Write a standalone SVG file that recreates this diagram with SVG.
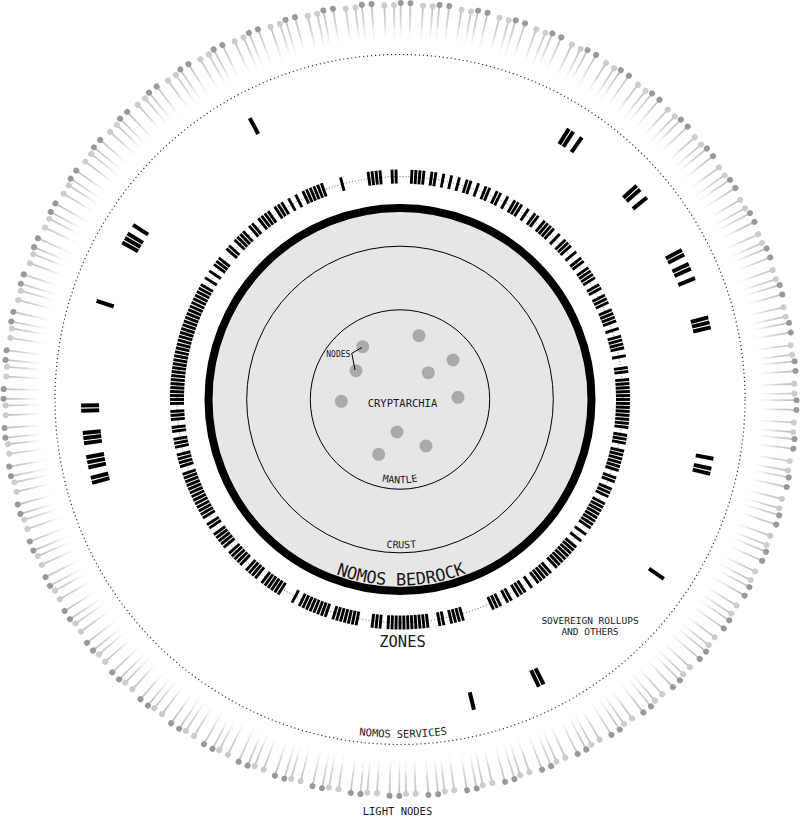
<svg xmlns="http://www.w3.org/2000/svg" width="800" height="817" viewBox="0 0 800 817">
<style>
.t{font-family:"DejaVu Sans Mono","Liberation Mono",monospace;fill:#1a1a1a}
.ring{fill:none;stroke:#000;stroke-width:1}
.node{fill:#aaa}
.dot1{fill:none;stroke:#333;stroke-width:0.8;stroke-dasharray:1 2}
.dot2{fill:none;stroke:#333;stroke-width:1.2;stroke-dasharray:1.2 2.8}
</style>
<defs>
<linearGradient id="fade" x1="0" y1="0" x2="1" y2="0">
<stop offset="0" stop-color="#fff" stop-opacity="0"/>
<stop offset="0.55" stop-color="#d6d6d6"/>
<stop offset="1" stop-color="#bdbdbd"/>
</linearGradient>
<g id="lL"><rect x="354" y="-0.85" width="40.5" height="1.7" fill="url(#fade)"/><circle cx="394.5" cy="0" r="3" fill="#ccc"/></g>
<g id="lD"><rect x="354" y="-0.85" width="42.5" height="1.7" fill="url(#fade)"/><circle cx="396.5" cy="0" r="3" fill="#999"/></g>
<g id="P"><use href="#lL"/><use href="#lL" transform="rotate(1.41)"/><use href="#lD" transform="rotate(2.38)"/><use href="#lD" transform="rotate(3.79)"/></g>
<g id="P8"><use href="#P"/><use href="#P" transform="rotate(5.625)"/><use href="#P" transform="rotate(11.25)"/><use href="#P" transform="rotate(16.875)"/><use href="#P" transform="rotate(22.5)"/><use href="#P" transform="rotate(28.125)"/><use href="#P" transform="rotate(33.75)"/><use href="#P" transform="rotate(39.375)"/></g>
<rect id="z" x="216" y="-1.45" width="14" height="2.9"/>
<g id="z2"><use href="#z"/><use href="#z" transform="rotate(1)"/></g>
<g id="z3"><use href="#z2"/><use href="#z" transform="rotate(2)"/></g>
<g id="z4"><use href="#z2"/><use href="#z2" transform="rotate(2)"/></g>
<g id="z5"><use href="#z4"/><use href="#z" transform="rotate(4)"/></g>
<g id="z6"><use href="#z4"/><use href="#z2" transform="rotate(4)"/></g>
<g id="z8"><use href="#z4"/><use href="#z4" transform="rotate(4)"/></g>
<rect id="s" x="301" y="-2" width="18" height="4"/>
<path id="pMantle" d="M316.2 399.5 A83.8 83.8 0 0 0 483.8 399.5"/>
<path id="pCrust" d="M251.2 399.5 A148.8 148.8 0 0 0 548.8 399.5"/>
<path id="pBed" d="M214 399.5 A186 186 0 0 0 586 399.5"/>
<path id="pServ" d="M61.8 399.5 A338.2 338.2 0 0 0 738.2 399.5"/>
</defs>
<rect width="800" height="817" fill="#fff"/>

<g id="light-nodes" transform="translate(400 399.5) rotate(3.345)">
<use href="#P8"/><use href="#P8" transform="rotate(45)"/><use href="#P8" transform="rotate(90)"/><use href="#P8" transform="rotate(135)"/><use href="#P8" transform="rotate(180)"/><use href="#P8" transform="rotate(225)"/><use href="#P8" transform="rotate(270)"/><use href="#P8" transform="rotate(315)"/>
</g>

<g id="nomos-services">
<circle class="dot2" cx="400" cy="399.5" r="345"/>
<text class="t" font-size="10.5"><textPath href="#pServ" startOffset="50.3%" text-anchor="middle">NOMOS SERVICES</textPath></text>
</g>

<g id="sovereign-rollups" transform="translate(400 399.5)">
<use href="#s" transform="rotate(241.9)"/>
<use href="#s" transform="rotate(301.95)"/><use href="#s" transform="rotate(302.88)"/><use href="#s" transform="rotate(304.74)"/>
<use href="#s" transform="rotate(317.9)"/><use href="#s" transform="rotate(318.83)"/><use href="#s" transform="rotate(320.7)"/>
<use href="#s" transform="rotate(332.05)"/><use href="#s" transform="rotate(332.98)"/><use href="#s" transform="rotate(334.84)"/><use href="#s" transform="rotate(335.77)"/><use href="#s" transform="rotate(337.63)"/>
<use href="#s" transform="rotate(345.07)"/><use href="#s" transform="rotate(346)"/><use href="#s" transform="rotate(346.93)"/>
<use href="#s" transform="rotate(10.7)"/><use href="#s" transform="rotate(12.55)"/><use href="#s" transform="rotate(13.48)"/>
<use href="#s" transform="rotate(34.2)"/>
<use href="#s" transform="rotate(63.25)"/><use href="#s" transform="rotate(64.18)"/>
<use href="#s" transform="rotate(76.6)"/>
<use href="#s" transform="rotate(198)"/>
<use href="#s" transform="rotate(209.5)"/><use href="#s" transform="rotate(210.43)"/><use href="#s" transform="rotate(211.36)"/><use href="#s" transform="rotate(213.2)"/>
<use href="#s" transform="rotate(177.97)"/><use href="#s" transform="rotate(178.9)"/>
<use href="#s" transform="rotate(172.1)"/><use href="#s" transform="rotate(173.03)"/><use href="#s" transform="rotate(173.96)"/>
<use href="#s" transform="rotate(167.7)"/><use href="#s" transform="rotate(168.63)"/><use href="#s" transform="rotate(169.56)"/>
<use href="#s" transform="rotate(164.85)"/><use href="#s" transform="rotate(165.78)"/>
</g>
<text class="t" font-size="9.5" x="590" y="623.5" text-anchor="middle">SOVEREIGN ROLLUPS</text>
<text class="t" font-size="9.5" x="590" y="635" text-anchor="middle">AND OTHERS</text>

<g id="zones">
<g transform="translate(400 399.5)">
<circle class="dot1" r="223"/>
<use href="#z8" transform="rotate(355)"/><use href="#z5" transform="rotate(3)"/>
<use href="#z3" transform="rotate(9)"/><use href="#z6" transform="rotate(13)"/>
<use href="#z2" transform="rotate(20)"/><use href="#z3" transform="rotate(23)"/>
<use href="#z8" transform="rotate(27)"/><use href="#z" transform="rotate(36)"/>
<use href="#z" transform="rotate(38)"/><use href="#z8" transform="rotate(40)"/>
<use href="#z5" transform="rotate(49)"/><use href="#z" transform="rotate(55)"/>
<use href="#z3" transform="rotate(57)"/><use href="#z2" transform="rotate(61)"/>
<use href="#z3" transform="rotate(64)"/><use href="#z4" transform="rotate(74)"/>
<use href="#z2" transform="rotate(79)"/><use href="#z8" transform="rotate(83)"/>
<use href="#z3" transform="rotate(91)"/><use href="#z3" transform="rotate(95)"/>
<use href="#z4" transform="rotate(101)"/><use href="#z3" transform="rotate(105)"/>
<use href="#z8" transform="rotate(109)"/><use href="#z" transform="rotate(118)"/>
<use href="#z6" transform="rotate(122)"/><use href="#z4" transform="rotate(129)"/>
<use href="#z5" transform="rotate(134)"/><use href="#z5" transform="rotate(140)"/>
<use href="#z2" transform="rotate(146)"/><use href="#z8" transform="rotate(149)"/>
<use href="#z5" transform="rotate(157)"/><use href="#z4" transform="rotate(163)"/>
<use href="#z3" transform="rotate(168)"/><use href="#z2" transform="rotate(172)"/>
<use href="#z3" transform="rotate(175)"/><use href="#z8" transform="rotate(179)"/>
<use href="#z8" transform="rotate(187)"/><use href="#z8" transform="rotate(195)"/>
<use href="#z8" transform="rotate(203)"/><use href="#z" transform="rotate(212)"/>
<use href="#z" transform="rotate(214)"/><use href="#z3" transform="rotate(216)"/>
<use href="#z2" transform="rotate(221)"/><use href="#z4" transform="rotate(224)"/>
<use href="#z2" transform="rotate(229)"/><use href="#z4" transform="rotate(232)"/>
<use href="#z3" transform="rotate(237)"/><use href="#z" transform="rotate(241)"/>
<use href="#z" transform="rotate(243)"/><use href="#z6" transform="rotate(245)"/>
<use href="#z" transform="rotate(255)"/><use href="#z4" transform="rotate(262)"/>
<use href="#z2" transform="rotate(268)"/><use href="#z4" transform="rotate(273)"/>
<use href="#z2" transform="rotate(278)"/><use href="#z" transform="rotate(281)"/>
<use href="#z" transform="rotate(283)"/><use href="#z" transform="rotate(285)"/>
<use href="#z2" transform="rotate(287)"/><use href="#z" transform="rotate(290)"/>
<use href="#z2" transform="rotate(292)"/><use href="#z2" transform="rotate(295)"/>
<use href="#z" transform="rotate(298)"/><use href="#z3" transform="rotate(300)"/>
<use href="#z" transform="rotate(304)"/><use href="#z2" transform="rotate(306)"/>
<use href="#z4" transform="rotate(309)"/><use href="#z" transform="rotate(314)"/>
<use href="#z3" transform="rotate(316)"/><use href="#z" transform="rotate(320)"/>
<use href="#z2" transform="rotate(322)"/><use href="#z4" transform="rotate(325)"/>
<use href="#z2" transform="rotate(330)"/><use href="#z3" transform="rotate(333)"/>
<use href="#z4" transform="rotate(337)"/><use href="#z" transform="rotate(342)"/>
<use href="#z4" transform="rotate(344)"/><use href="#z" transform="rotate(349)"/>
<use href="#z2" transform="rotate(352)"/>
</g>
<text class="t" font-size="15.5" x="402.5" y="646.7" text-anchor="middle">ZONES</text>
</g>

<g id="bedrock">
<circle cx="400" cy="399.5" r="191.5" fill="#e6e6e6"/>
<circle cx="400" cy="399.5" r="191.5" fill="none" stroke="#000" stroke-width="8"/>
<text class="t" font-size="17"><textPath href="#pBed" startOffset="50.2%" text-anchor="middle">NOMOS BEDROCK</textPath></text>
</g>

<g id="crust">
<circle class="ring" cx="400" cy="399.5" r="153.3"/>
<text class="t" font-size="10"><textPath href="#pCrust" startOffset="50.3%" text-anchor="middle">CRUST</textPath></text>
</g>

<g id="mantle">
<circle class="ring" cx="400" cy="399.5" r="89.7"/>
<text class="t" font-size="10"><textPath href="#pMantle" startOffset="50%" text-anchor="middle">MANTLE</textPath></text>
</g>

<g id="cryptarchia">
<text class="t" font-size="10.5" x="402.5" y="407.3" text-anchor="middle">CRYPTARCHIA</text>
</g>

<g id="n1"><circle class="node" cx="362.7" cy="346.7" r="6.5"/></g>
<g id="n2"><circle class="node" cx="356" cy="370.7" r="6.5"/></g>
<g id="n3"><circle class="node" cx="419" cy="335.7" r="6.5"/></g>
<g id="n4"><circle class="node" cx="453" cy="360" r="6.5"/></g>
<g id="n5"><circle class="node" cx="428.3" cy="372.7" r="6.5"/></g>
<g id="n6"><circle class="node" cx="458" cy="397.3" r="6.5"/></g>
<g id="n7"><circle class="node" cx="341.3" cy="401.3" r="6.5"/></g>
<g id="n8"><circle class="node" cx="397" cy="432" r="6.5"/></g>
<g id="n9"><circle class="node" cx="426" cy="446" r="6.5"/></g>
<g id="n10"><circle class="node" cx="378.7" cy="454.3" r="6.5"/></g>

<g id="nodes-label">
<text class="t" font-size="8" x="338.3" y="357.3" text-anchor="middle">NODES</text>
</g>

<g id="connectors" fill="none" stroke="#000" stroke-width="1">
<polyline points="362,347.5 351.8,353.3 355,370"/>
</g>

<text class="t" font-size="10.5" x="397.5" y="815" text-anchor="middle">LIGHT NODES</text>
</svg>
